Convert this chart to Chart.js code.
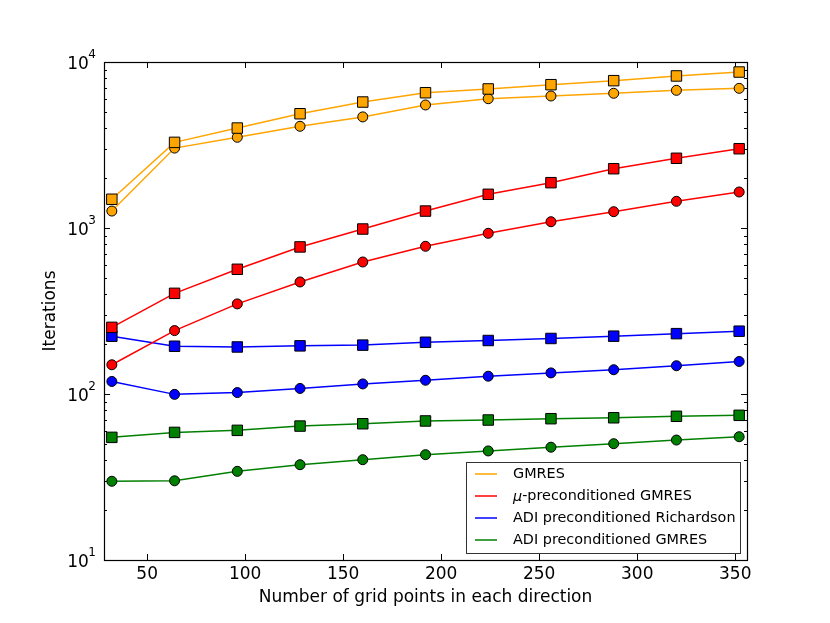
<!DOCTYPE html>
<html>
<head>
<meta charset="utf-8">
<script src="https://cdn.jsdelivr.net/npm/chart.js@4"></script>
<style>
html,body{margin:0;padding:0;background:#fff;}
#wrap{width:830px;height:623px;}
</style>
</head>
<body>
<div id="wrap"><canvas id="c" width="830" height="623"></canvas></div>
<script>
const xValues = [32, 64, 96, 128, 160, 192, 224, 256, 288, 320, 352];
const gmresSquare = [1490, 3280, 4000, 4880, 5740, 6530, 6880, 7300, 7720, 8240, 8700];
const gmresCircle = [1265, 3030, 3520, 4100, 4670, 5510, 6010, 6240, 6480, 6750, 6940];
const muSquare = [252, 404, 564, 769, 986, 1265, 1596, 1875, 2276, 2630, 3003];
const muCircle = [150, 241, 349, 473, 624, 776, 929, 1091, 1254, 1448, 1648];
const richSquare = [223, 194, 192, 195, 197, 205, 210, 216, 223, 231, 239];
const richCircle = [119, 99.5, 102, 108, 115, 121, 128, 134, 140, 148, 157];
const adiGmresSquare = [54.8, 58.7, 60.4, 64.1, 66.2, 68.8, 69.7, 71.0, 71.9, 73.4, 74.4];
const adiGmresCircle = [29.8, 30.0, 34.2, 37.5, 40.2, 43.1, 45.4, 47.8, 50.2, 52.8, 55.3];
const legendLabels = ["GMRES", "\u03bc-preconditioned GMRES", "ADI preconditioned Richardson", "ADI preconditioned GMRES"];
const xTicks = [50, 100, 150, 200, 250, 300, 350];
const yMajorTicks = [10, 100, 1000, 10000];
const yExponents = ["1", "2", "3", "4"];
const xTitle = "Number of grid points in each direction";
const yTitle = "Iterations";

const colors = ["#FFA500", "#FF0000", "#0000FF", "#008000"];
const FONT = "'DejaVu Sans', sans-serif";

function mk(label, vals, color, style) {
  return {
    label: label,
    data: xValues.map((x, i) => ({x: x, y: vals[i]})),
    borderColor: color,
    backgroundColor: color,
    borderWidth: 1.5,
    pointStyle: style,
    pointRadius: style === 'rect' ? 7.4 : 5,
    pointBorderColor: '#000',
    pointBackgroundColor: color,
    pointBorderWidth: 1,
    tension: 0,
    fill: false
  };
}

const datasets = [
  mk(legendLabels[0], gmresSquare, colors[0], 'rect'),
  mk(legendLabels[0], gmresCircle, colors[0], 'circle'),
  mk(legendLabels[1], muSquare, colors[1], 'rect'),
  mk(legendLabels[1], muCircle, colors[1], 'circle'),
  mk(legendLabels[2], richSquare, colors[2], 'rect'),
  mk(legendLabels[2], richCircle, colors[2], 'circle'),
  mk(legendLabels[3], adiGmresSquare, colors[3], 'rect'),
  mk(legendLabels[3], adiGmresCircle, colors[3], 'circle')
];

const decorPlugin = {
  id: 'decor',
  beforeDatasetsDraw(chart) {
    const ctx = chart.ctx;
    const a = chart.chartArea;
    const xs = chart.scales.x, ys = chart.scales.y;
    ctx.save();
    ctx.strokeStyle = '#000';
    ctx.lineWidth = 1;
    ctx.beginPath();
    xTicks.forEach(v => {
      const px = Math.round(xs.getPixelForValue(v)) + 0.5;
      ctx.moveTo(px, a.bottom); ctx.lineTo(px, a.bottom - 6);
      ctx.moveTo(px, a.top); ctx.lineTo(px, a.top + 6);
    });
    for (let d = 0; d < yMajorTicks.length; d++) {
      const base = yMajorTicks[d];
      for (let m = 1; m <= 9; m++) {
        const v = base * m;
        if (v > yMajorTicks[yMajorTicks.length - 1]) break;
        const py = Math.round(ys.getPixelForValue(v)) + 0.5;
        const len = m === 1 ? 6 : 3;
        ctx.moveTo(a.left, py); ctx.lineTo(a.left + len, py);
        ctx.moveTo(a.right, py); ctx.lineTo(a.right - len, py);
      }
    }
    ctx.stroke();
    ctx.restore();
  },
  afterDatasetsDraw(chart) {
    const ctx = chart.ctx;
    const a = chart.chartArea;
    const ys = chart.scales.y;
    ctx.save();
    ctx.strokeStyle = '#000';
    ctx.lineWidth = 1.2;
    ctx.strokeRect(Math.round(a.left) + 0.5, Math.round(a.top) + 0.5, Math.round(a.right - a.left), Math.round(a.bottom - a.top));
    ctx.fillStyle = '#000';
    yMajorTicks.forEach((v, i) => {
      const py = ys.getPixelForValue(v);
      const rightX = a.left - 8;
      ctx.font = '12px ' + FONT;
      ctx.textAlign = 'right';
      ctx.textBaseline = 'alphabetic';
      const ew = ctx.measureText(yExponents[i]).width;
      ctx.fillText(yExponents[i], rightX, py - 4);
      ctx.font = '17px ' + FONT;
      ctx.fillText('10', rightX - ew + 0.5, py + 6.5);
    });
    const lx = 466, ly = 462, lw = 274, lh = 91;
    ctx.fillStyle = '#fff';
    ctx.fillRect(lx, ly, lw, lh);
    ctx.strokeStyle = '#333';
    ctx.lineWidth = 1;
    ctx.strokeRect(lx + 0.5, ly + 0.5, lw, lh);
    const rows = [474, 496, 518, 540];
    legendLabels.forEach((lab, i) => {
      const y = rows[i];
      ctx.strokeStyle = colors[i];
      ctx.lineWidth = 1.5;
      ctx.beginPath();
      ctx.moveTo(475, y); ctx.lineTo(497, y);
      ctx.stroke();
      ctx.fillStyle = '#000';
      ctx.textAlign = 'left';
      ctx.textBaseline = 'middle';
      if (lab.charAt(0) === '\u03bc') {
        ctx.font = 'italic 14.4px ' + FONT;
        ctx.fillText('\u03bc', 513, y + 1);
        const w = ctx.measureText('\u03bc').width;
        ctx.font = '14.4px ' + FONT;
        ctx.fillText(lab.slice(1), 513 + w, y);
      } else {
        ctx.font = '14.4px ' + FONT;
        ctx.fillText(lab, 513, y);
      }
    });
    ctx.restore();
  }
};

new Chart(document.getElementById('c'), {
  type: 'line',
  data: {datasets: datasets},
  options: {
    responsive: false,
    animation: false,
    devicePixelRatio: 1,
    events: [],
    layout: {padding: {top: 62, right: 83, left: 0, bottom: 0}},
    plugins: {legend: {display: false}, tooltip: {enabled: false}},
    scales: {
      x: {
        type: 'linear',
        min: 28, max: 356,
        grid: {display: false, drawTicks: false},
        border: {display: false},
        afterBuildTicks: s => { s.ticks = xTicks.map(v => ({value: v})); },
        afterFit: s => { s.height = 63; },
        ticks: {color: '#000', font: {family: FONT, size: 17}, padding: 4, maxRotation: 0},
        title: {display: true, text: xTitle, color: '#000', font: {family: FONT, size: 17}, padding: {top: 0, bottom: 15}}
      },
      y: {
        type: 'logarithmic',
        min: 10, max: 10000,
        grid: {display: false, drawTicks: false},
        border: {display: false},
        afterBuildTicks: s => { s.ticks = yMajorTicks.map(v => ({value: v})); },
        afterFit: s => { s.width = 104; },
        ticks: {display: false},
        title: {display: true, text: yTitle, color: '#000', font: {family: FONT, size: 17}, padding: {top: 40, bottom: 0}}
      }
    }
  },
  plugins: [decorPlugin]
});
</script>
</body>
</html>
